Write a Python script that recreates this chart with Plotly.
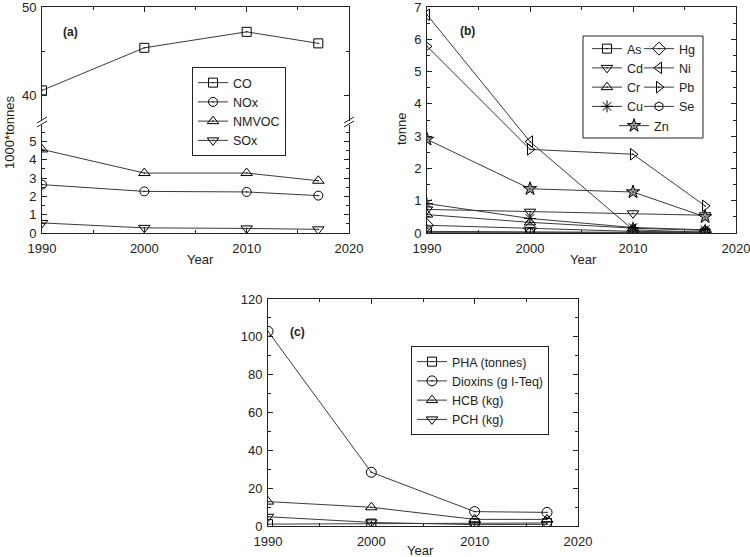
import plotly.graph_objects as go

W, H = 750, 557
FONT = "Liberation Sans, Arial, sans-serif"
LINE_C = "#3a3a3a"
AX_C = "#222222"

# ---------------- data ----------------
years = [1990, 2000, 2010, 2017]

# panel (a) 1000*tonnes
co = [40.6, 45.4, 47.2, 45.9]
nox = [2.64, 2.27, 2.24, 2.04]
nmvoc = [4.56, 3.27, 3.27, 2.85]
sox = [0.55, 0.28, 0.25, 0.20]

# panel (b) tonne
as_ = [0.05, 0.03, 0.02, 0.01]
cd = [0.73, 0.66, 0.61, 0.55]
cr = [0.57, 0.33, 0.15, 0.08]
cu = [0.91, 0.45, 0.17, 0.10]
hg = [0.24, 0.15, 0.05, 0.03]
ni = [6.76, 2.83, 0.10, 0.02]
pb = [5.78, 2.59, 2.44, 0.84]
se = [0.01, 0.01, 0.01, 0.01]
zn = [2.90, 1.37, 1.27, 0.50]

# panel (c)
pha = [1.0, 1.3, 1.6, 1.6]
dioxins = [102.9, 28.4, 7.6, 7.2]
hcb = [12.9, 9.9, 3.5, 3.5]
pch = [4.9, 1.9, 0.7, 0.9]

x_ticks = [1990, 2000, 2010, 2020]


def px(x):
    return x / W


def py(y):
    return 1 - y / H


fig = go.Figure()


def add(name, xs, ys, symbol, xa, ya, legend, size=9, color="black", fill="white"):
    fig.add_trace(go.Scatter(
        x=xs, y=ys, name=name, mode="lines+markers",
        xaxis=xa, yaxis=ya, legend=legend,
        line=dict(color=LINE_C, width=1),
        marker=dict(symbol=symbol, size=size, color=fill if "open" not in symbol else color,
                    line=dict(color=color, width=1)),
    ))


# panel (a)
add("CO", years, co, "square-open-dot", "x2", "y2", "legend")
add("NOx", years, nox, "circle-open-dot", "x", "y", "legend")
add("NMVOC", years, nmvoc, "triangle-up-open-dot", "x", "y", "legend", size=10)
add("SOx", years, sox, "triangle-down-open-dot", "x", "y", "legend", size=10)

# panel (b)
add("As", years, as_, "square-open-dot", "x3", "y3", "legend2")
add("Cd", years, cd, "triangle-down-open-dot", "x3", "y3", "legend2", size=10)
add("Cr", years, cr, "triangle-up-open-dot", "x3", "y3", "legend2", size=10)
add("Cu", years, cu, "asterisk-open", "x3", "y3", "legend2", size=10)
add("Hg", years, hg, "diamond-open-dot", "x3", "y3", "legend3", size=10)
add("Ni", years, ni, "triangle-left-open-dot", "x3", "y3", "legend3", size=10)
add("Pb", years, pb, "triangle-right-open-dot", "x3", "y3", "legend3", size=10)
add("Se", years, se, "hexagon-open-dot", "x3", "y3", "legend3", size=9)
add("Zn", years, zn, "star-dot", "x3", "y3", "legend4", size=10, fill="#9a9a9a")

# panel (c)
add("PHA (tonnes)", years, pha, "square-open-dot", "x4", "y4", "legend5")
add("Dioxins (g I-Teq)", years, dioxins, "circle-open-dot", "x4", "y4", "legend5", size=10)
add("HCB (kg)", years, hcb, "triangle-up-open-dot", "x4", "y4", "legend5", size=10)
add("PCH (kg)", years, pch, "triangle-down-open-dot", "x4", "y4", "legend5", size=10)

base = dict(showline=True, linecolor=AX_C, linewidth=1, ticks="inside", ticklen=5,
            tickcolor=AX_C, tickwidth=1, showgrid=False, zeroline=False, automargin=False,
            ticklabeloverflow="allow",
            tickfont=dict(family=FONT, size=13, color="#222"))


def xax(domain, anchor, mirror=True, **kw):
    d = dict(base, domain=domain, anchor=anchor, range=[1990, 2020], tickvals=x_ticks,
             ticklabelstandoff=3,
             minor=dict(ticks="inside", ticklen=3, dtick=5, tick0=1990, tickcolor=AX_C),
             mirror="allticks" if mirror else False)
    d.update(kw)
    return d


def yax(domain, anchor, rng, dtick, mdtick, **kw):
    d = dict(base, domain=domain, anchor=anchor, range=rng, dtick=dtick, tick0=0,
             ticklabelstandoff=2,
             minor=dict(ticks="inside", ticklen=3, dtick=mdtick, tick0=0, tickcolor=AX_C),
             mirror="allticks")
    d.update(kw)
    return d


a_x = [px(42), px(349)]
b_x = [px(427), px(736)]
c_x = [px(268), px(578)]

fig.update_layout(
    template="none",
    width=W, height=H, margin=dict(l=0, r=0, t=0, b=0, pad=0, autoexpand=False),
    paper_bgcolor="white", plot_bgcolor="white",
    font=dict(family=FONT, size=13, color="#222"),
    xaxis=xax(a_x, "y", mirror=False),
    yaxis=yax([py(233), py(125)], "x", [0, 108 / 18.33], 1, 0.5),
    xaxis2=xax(a_x, "y2", mirror=False, side="top", showticklabels=False, matches="x"),
    yaxis2=yax([py(121), py(7)], "x2", [50 - 114 / 8.87, 50], 10, 5),
    xaxis3=xax(b_x, "y3"),
    yaxis3=yax([py(233), py(7)], "x3", [0, 7], 1, 0.5),
    xaxis4=xax(c_x, "y4"),
    yaxis4=yax([py(526), py(299)], "x4", [0, 120], 20, 10),
    showlegend=True,
)

leg_common = dict(font=dict(family=FONT, size=12.5, color="#222"), bgcolor="rgba(0,0,0,0)",
                  xanchor="left", yanchor="top", itemwidth=30, tracegroupgap=0,
                  itemclick=False)
fig.update_layout(
    legend=dict(leg_common, x=px(192), y=py(67), bordercolor=AX_C, borderwidth=1),
    legend2=dict(leg_common, x=px(587), y=py(34)),
    legend3=dict(leg_common, x=px(639), y=py(34)),
    legend4=dict(leg_common, x=px(614), y=py(111)),
    legend5=dict(leg_common, x=px(411), y=py(346), bordercolor=AX_C, borderwidth=1),
)

shapes = [dict(type="rect", xref="paper", yref="paper", x0=px(583), x1=px(703),
               y0=py(138), y1=py(36), line=dict(color=AX_C, width=1))]
# axis-break marks for panel (a)
for xc in (42, 349):
    for dy in (0, 4):
        shapes.append(dict(type="line", xref="paper", yref="paper",
                           x0=px(xc - 5), y0=py(127 - dy), x1=px(xc + 5), y1=py(121 - dy),
                           line=dict(color=AX_C, width=1)))
fig.update_layout(shapes=shapes)


def ann(text, x, y, size=13, bold=False, angle=0):
    fig.add_annotation(text=f"<b>{text}</b>" if bold else text, xref="paper", yref="paper",
                       x=px(x), y=py(y), showarrow=False, textangle=angle,
                       font=dict(family=FONT, size=size, color="#222"),
                       xanchor="center", yanchor="middle")


ann("(a)", 70, 32, size=12, bold=True)
ann("(b)", 467, 31, size=12, bold=True)
ann("(c)", 297, 332, size=12, bold=True)
ann("Year", 200, 259)
ann("Year", 583, 259)
ann("Year", 420, 550)
ann("1000*tonnes", 10, 132, angle=-90)
ann("tonne", 401, 128, angle=-90)

fig.write_html("out.html", config={"displayModeBar": False},
               post_script="document.body.style.margin='0';")
